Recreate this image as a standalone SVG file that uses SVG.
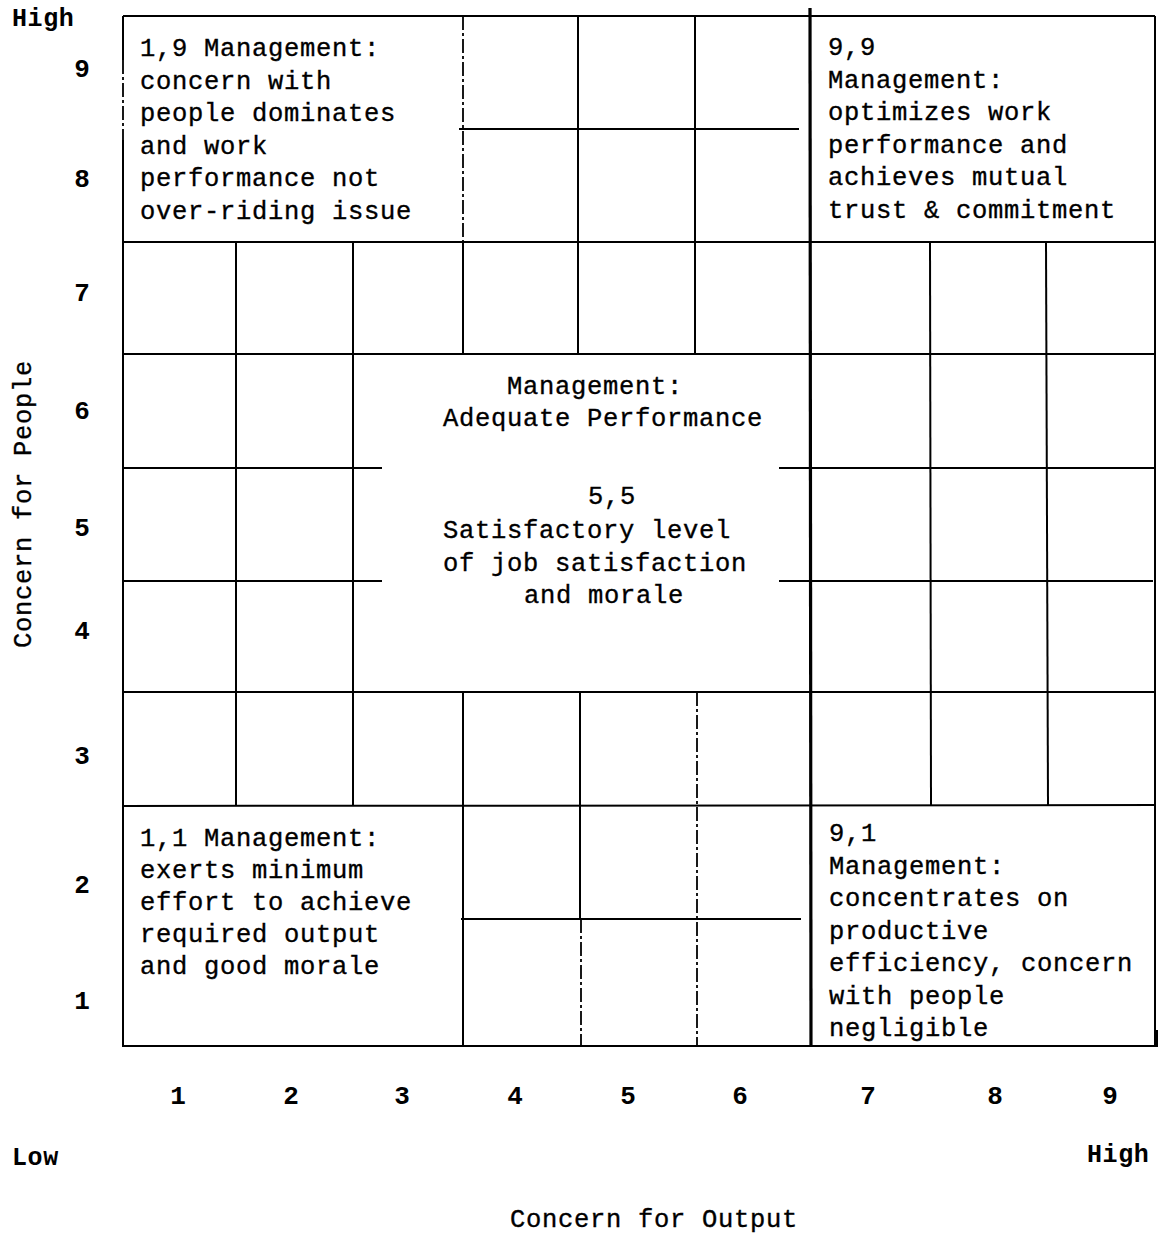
<svg xmlns="http://www.w3.org/2000/svg" width="1168" height="1235" viewBox="0 0 1168 1235">
<style>
  .ln { stroke: #000; stroke-width: 2; fill: none; }
  .thick { stroke: #000; stroke-width: 3.2; fill: none; }
  .dash { stroke: #000; stroke-width: 1.8; fill: none; stroke-dasharray: 14 3 3 3; }
  .t { font-family: "Liberation Mono", "DejaVu Sans Mono", monospace; font-size: 25.5px; letter-spacing: 0.7px; fill: #000; stroke: #000; stroke-width: 0.35; }
  .ax { font-family: "Liberation Mono", "DejaVu Sans Mono", monospace; font-size: 26px; font-weight: bold; fill: #000; text-anchor: middle; }
  .hl { font-family: "Liberation Mono", "DejaVu Sans Mono", monospace; font-size: 25px; font-weight: bold; letter-spacing: 0.6px; fill: #000; }
</style>
<rect width="1168" height="1235" fill="#fff"/>
<g id="grid">
  <line class="ln" x1="123" y1="16" x2="1155" y2="16"/>
  <line class="ln" x1="122" y1="1046" x2="1158" y2="1046"/>
  <line class="ln" x1="123" y1="16" x2="123" y2="60"/>
  <line class="dash" x1="123" y1="60" x2="123" y2="140"/>
  <line class="ln" x1="123" y1="140" x2="123" y2="1046"/>
  <line class="ln" x1="1155" y1="16" x2="1155" y2="1046"/>
  <line class="ln" x1="1157" y1="1030" x2="1157" y2="1046"/>
  <line class="ln" x1="123" y1="242" x2="1155" y2="242"/>
  <line class="ln" x1="123" y1="354" x2="1155" y2="354"/>
  <line class="ln" x1="123" y1="692" x2="1155" y2="692"/>
  <line class="ln" x1="123" y1="806" x2="1155" y2="805"/>
  <line class="ln" x1="123" y1="468" x2="382" y2="468"/>
  <line class="ln" x1="779" y1="468" x2="1155" y2="468"/>
  <line class="ln" x1="123" y1="581" x2="382" y2="581"/>
  <line class="ln" x1="779" y1="581" x2="1153" y2="581"/>
  <line class="ln" x1="459" y1="129" x2="799" y2="129"/>
  <line class="ln" x1="461" y1="919" x2="801" y2="919"/>
  <line class="ln" x1="236" y1="242" x2="236" y2="805"/>
  <line class="ln" x1="353" y1="242" x2="353" y2="805"/>
  <line class="dash" x1="463" y1="16" x2="463" y2="242"/>
  <line class="ln" x1="463" y1="242" x2="463" y2="354"/>
  <line class="ln" x1="463" y1="692" x2="463" y2="1046"/>
  <line class="ln" x1="578" y1="16" x2="578" y2="354"/>
  <line class="ln" x1="580" y1="692" x2="580" y2="919"/>
  <line class="dash" x1="581" y1="919" x2="581" y2="1046"/>
  <line class="ln" x1="695" y1="16" x2="695" y2="354"/>
  <line class="dash" x1="697" y1="692" x2="697" y2="1046"/>
  <line class="thick" x1="810" y1="8" x2="811" y2="1046"/>
  <line class="ln" x1="930" y1="242" x2="931" y2="805"/>
  <line class="ln" x1="1046" y1="242" x2="1048" y2="805"/>
</g>
<g id="node-1-9">
  <text class="t" x="140" y="56">1,9  Management:</text>
  <text class="t" x="140" y="88.5">concern with</text>
  <text class="t" x="140" y="121">people dominates</text>
  <text class="t" x="140" y="153.5">and work</text>
  <text class="t" x="140" y="186">performance not</text>
  <text class="t" x="140" y="218.5">over-riding issue</text>
</g>
<g id="node-9-9">
  <text class="t" x="828" y="55">9,9</text>
  <text class="t" x="828" y="87.5">Management:</text>
  <text class="t" x="828" y="120">optimizes work</text>
  <text class="t" x="828" y="152.5">performance and</text>
  <text class="t" x="828" y="185">achieves mutual</text>
  <text class="t" x="828" y="217.5">trust &amp; commitment</text>
</g>
<g id="node-5-5">
  <text class="t" x="507" y="394">Management:</text>
  <text class="t" x="443" y="426">Adequate Performance</text>
  <text class="t" x="588" y="504">5,5</text>
  <text class="t" x="443" y="538">Satisfactory level</text>
  <text class="t" x="443" y="571">of job satisfaction</text>
  <text class="t" x="524" y="603">and morale</text>
</g>
<g id="node-1-1">
  <text class="t" x="140" y="846">1,1  Management:</text>
  <text class="t" x="140" y="878">exerts minimum</text>
  <text class="t" x="140" y="910">effort to achieve</text>
  <text class="t" x="140" y="942">required output</text>
  <text class="t" x="140" y="974">and good morale</text>
</g>
<g id="node-9-1">
  <text class="t" x="829" y="841">9,1</text>
  <text class="t" x="829" y="873.5">Management:</text>
  <text class="t" x="829" y="906">concentrates on</text>
  <text class="t" x="829" y="938.5">productive</text>
  <text class="t" x="829" y="971">efficiency, concern</text>
  <text class="t" x="829" y="1003.5">with people</text>
  <text class="t" x="829" y="1036">negligible</text>
</g>
<g id="y-axis">
  <text class="hl" x="12" y="26">High</text>
  <text class="ax" x="82" y="77">9</text>
  <text class="ax" x="82" y="187">8</text>
  <text class="ax" x="82" y="301">7</text>
  <text class="ax" x="82" y="419">6</text>
  <text class="ax" x="82" y="536">5</text>
  <text class="ax" x="82" y="639">4</text>
  <text class="ax" x="82" y="764">3</text>
  <text class="ax" x="82" y="893">2</text>
  <text class="ax" x="82" y="1009">1</text>
  <text class="t" text-anchor="middle" transform="translate(31,504) rotate(-90)">Concern for People</text>
</g>
<g id="x-axis">
  <text class="ax" x="178" y="1104">1</text>
  <text class="ax" x="291" y="1104">2</text>
  <text class="ax" x="402" y="1104">3</text>
  <text class="ax" x="515" y="1104">4</text>
  <text class="ax" x="628" y="1104">5</text>
  <text class="ax" x="740" y="1104">6</text>
  <text class="ax" x="868" y="1104">7</text>
  <text class="ax" x="995" y="1104">8</text>
  <text class="ax" x="1110" y="1104">9</text>
  <text class="hl" x="12" y="1165">Low</text>
  <text class="hl" x="1087" y="1162">High</text>
  <text class="t" x="510" y="1227">Concern for Output</text>
</g>
</svg>
